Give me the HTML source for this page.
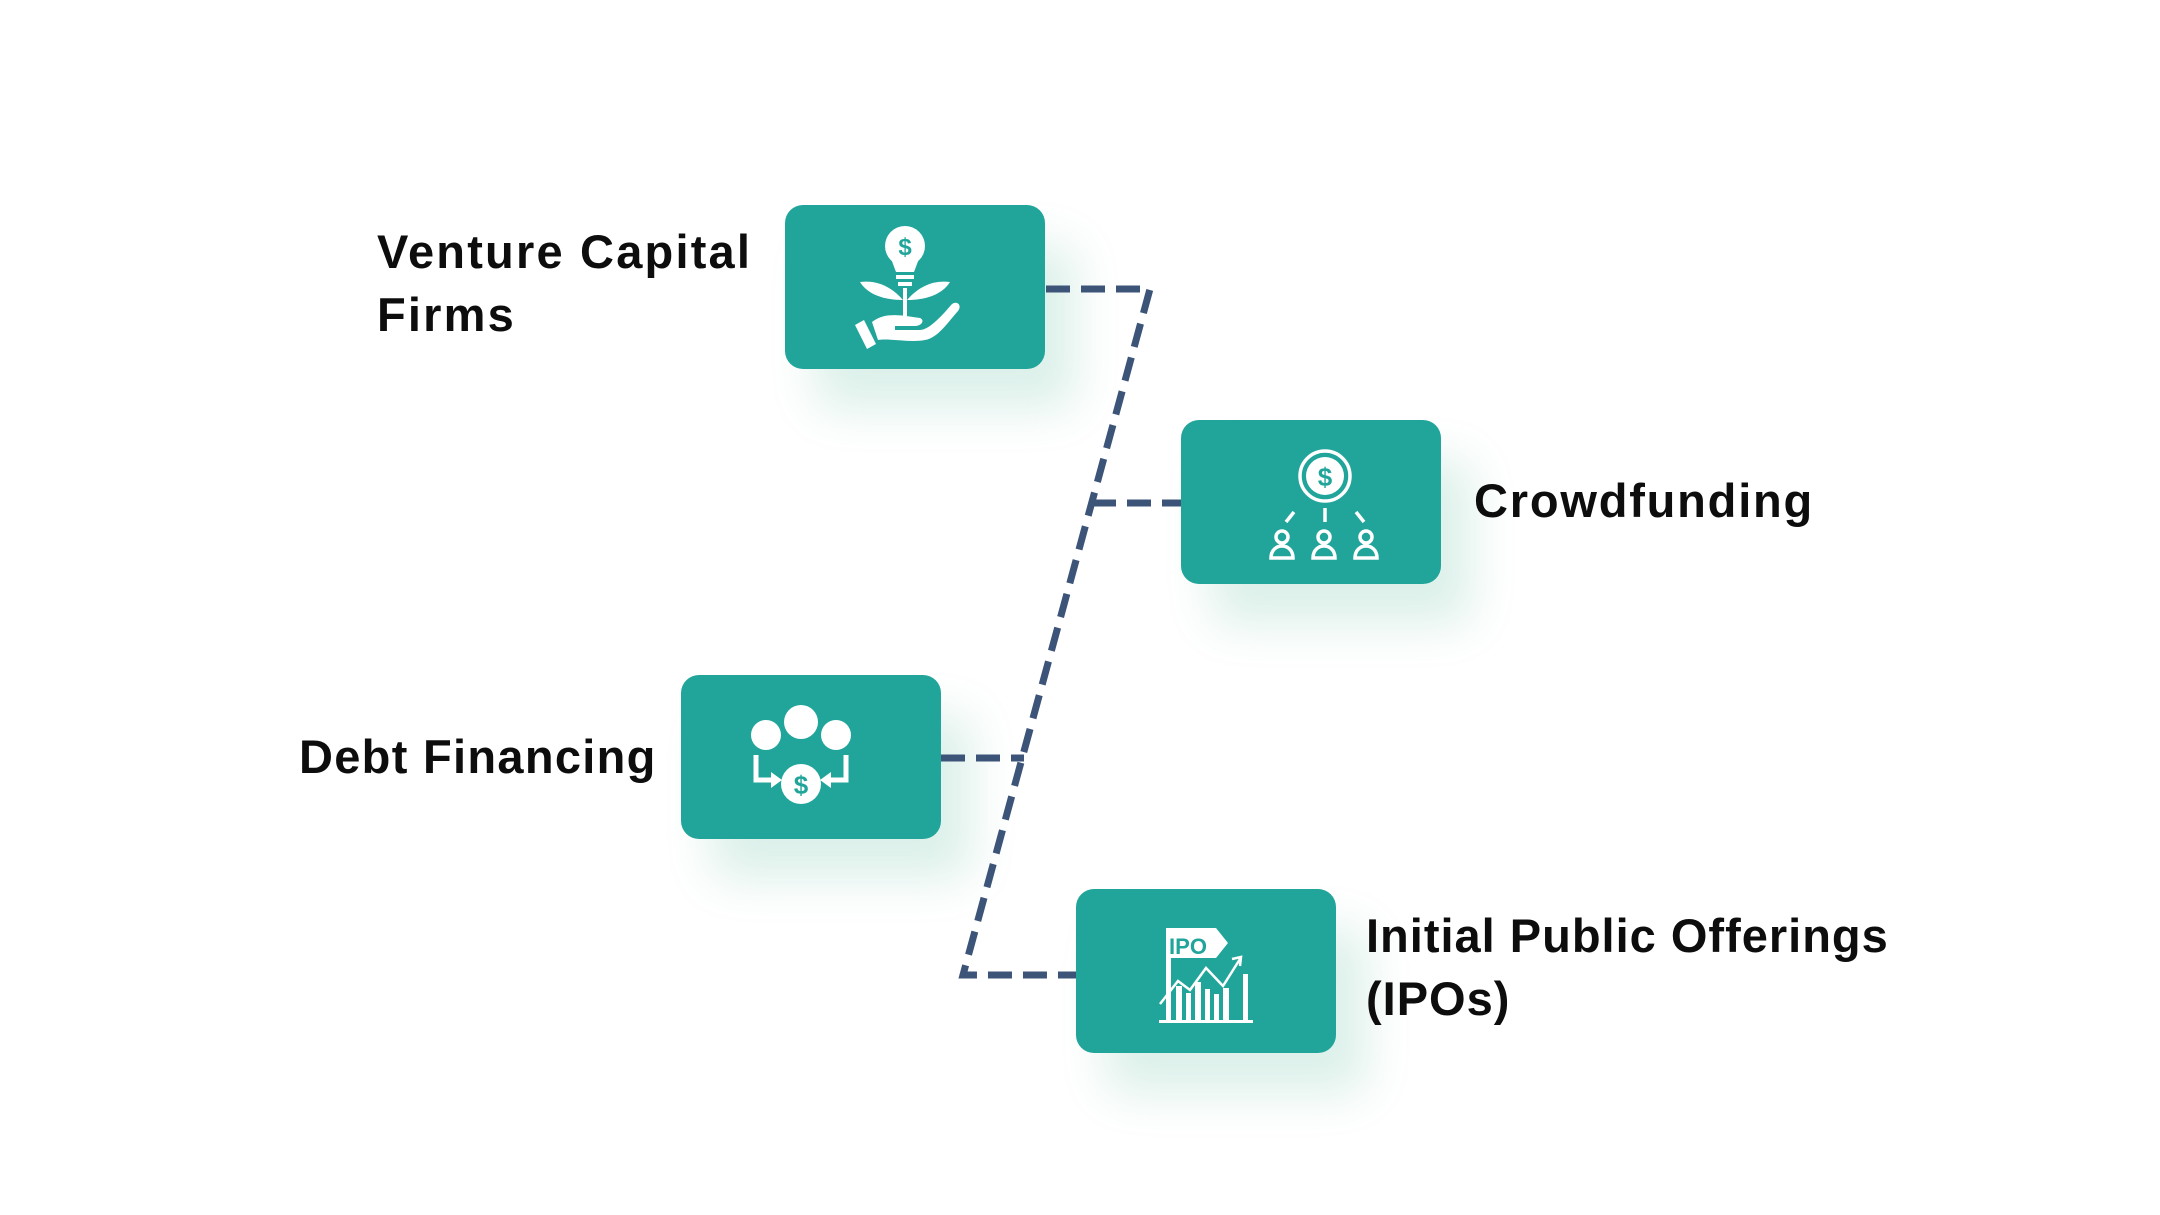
<!DOCTYPE html>
<html><head><meta charset="utf-8"><style>
html,body{margin:0;padding:0;background:#fff;}
body{width:2160px;height:1215px;position:relative;overflow:hidden;font-family:"Liberation Sans",sans-serif;}
.box{position:absolute;width:260px;height:164px;background:#21a59b;border-radius:18px;box-shadow:30px 40px 45px rgba(60,170,140,0.18);}
.t{position:absolute;font-weight:bold;font-size:47px;color:#0d0d0d;letter-spacing:1px;white-space:nowrap;line-height:63px;}
svg{position:absolute;left:0;top:0;}
</style></head><body>
<div class="box" style="left:785px;top:205px"></div>
<div class="box" style="left:1181px;top:420px"></div>
<div class="box" style="left:681px;top:675px"></div>
<div class="box" style="left:1076px;top:889px"></div>

<div class="t" style="left:377px;top:220px;letter-spacing:2.2px">Venture Capital<br>Firms</div>
<div class="t" style="left:1474px;top:469px;letter-spacing:1.8px">Crowdfunding</div>
<div class="t" style="left:299px;top:725px;letter-spacing:1.3px">Debt Financing</div>
<div class="t" style="left:1366px;top:904px;letter-spacing:1px">Initial Public Offerings<br>(IPOs)</div>

<svg width="2160" height="1215" viewBox="0 0 2160 1215">
<g stroke="#3d5479" stroke-width="7" fill="none" stroke-dasharray="24 11">
<path d="M1046 289 L1150 289 L963 975 L1076 975"/>
<path d="M1092 503 L1181 503"/>
<path d="M941 758 L1024 758"/>
</g>
<!-- VC icon -->
<g fill="#fff" stroke="none">
<circle cx="905" cy="246" r="20"/>
<path d="M890 256 L920 256 L914 272 L896 272 Z"/>
<rect x="896" y="275" width="18" height="4"/>
<rect x="898" y="282" width="14" height="4"/>
<rect x="903" y="288" width="4" height="30"/>
<path d="M903 300 C890 285 875 280 860 282 C868 295 885 300 903 300Z"/>
<path d="M907 300 C920 285 935 280 950 282 C942 295 925 300 907 300Z"/>
<path d="M872 322 C885 312 900 315 920 318 C925 320 922 326 915 326 L895 326 L895 330 L920 330 C930 330 945 312 952 304 C958 300 962 306 958 311 C948 322 938 338 925 340 C910 343 890 338 878 340 Z"/>
<path d="M855 325 L864 320 L876 344 L867 349 Z"/>
</g>
<text x="905" y="255" font-family="Liberation Sans" font-weight="bold" font-size="24" fill="#21a59b" text-anchor="middle">$</text>
<!-- CF icon -->
<g transform="translate(-8,0)">
<g fill="none" stroke="#fff" stroke-width="3.5">
<circle cx="1333" cy="476" r="25"/>
<line x1="1333" y1="508" x2="1333" y2="522"/>
<line x1="1302" y1="512" x2="1294" y2="522"/>
<line x1="1364" y1="512" x2="1372" y2="522"/>
<circle cx="1290" cy="537" r="6"/><path d="M1279 558 C1279 542 1301 542 1301 558 Z"/>
<circle cx="1332" cy="537" r="6"/><path d="M1321 558 C1321 542 1343 542 1343 558 Z"/>
<circle cx="1374" cy="537" r="6"/><path d="M1363 558 C1363 542 1385 542 1385 558 Z"/>
</g>
<circle cx="1333" cy="476" r="19" fill="#fff"/>
<text x="1333" y="486" font-family="Liberation Sans" font-weight="bold" font-size="26" fill="#21a59b" text-anchor="middle">$</text>
</g>
<!-- Debt icon -->
<g transform="translate(-7,0)">
<g fill="#fff">
<circle cx="773" cy="735" r="15"/><circle cx="808" cy="722" r="17"/><circle cx="843" cy="735" r="15"/>
<circle cx="808" cy="784" r="20"/>
</g>
<g fill="none" stroke="#fff" stroke-width="5">
<path d="M763 755 L763 780 L781 780"/><path d="M853 755 L853 780 L835 780"/>
</g>
<path d="M778 772 L789 780 L778 788Z M838 772 L827 780 L838 788Z" fill="#fff"/>
<text x="808" y="794" font-family="Liberation Sans" font-weight="bold" font-size="26" fill="#21a59b" text-anchor="middle">$</text>
</g>
<!-- IPO icon -->
<g transform="translate(-4,-2)">
<g fill="#fff">
<path d="M1170 930 L1220 930 L1232 945 L1220 960 L1170 960Z"/>
<rect x="1170" y="960" width="5" height="62"/>
<rect x="1180" y="988" width="6" height="34"/>
<rect x="1190" y="995" width="5" height="27"/>
<rect x="1199" y="984" width="6" height="38"/>
<rect x="1209" y="991" width="5" height="31"/>
<rect x="1218" y="996" width="5" height="26"/>
<rect x="1227" y="990" width="6" height="32"/>
<rect x="1247" y="976" width="5" height="46"/>
<rect x="1163" y="1022" width="94" height="3"/>
</g>
<g fill="none" stroke="#fff" stroke-width="2.5">
<path d="M1164 1006 L1182 983 L1194 992 L1210 970 L1227 988 L1244 961"/>
<path d="M1236 961 L1245 959 L1244 968"/>
</g>
<text x="1192" y="956" font-family="Liberation Sans" font-weight="bold" font-size="22" fill="#21a59b" text-anchor="middle">IPO</text>
</g>
</svg>
</body></html>
